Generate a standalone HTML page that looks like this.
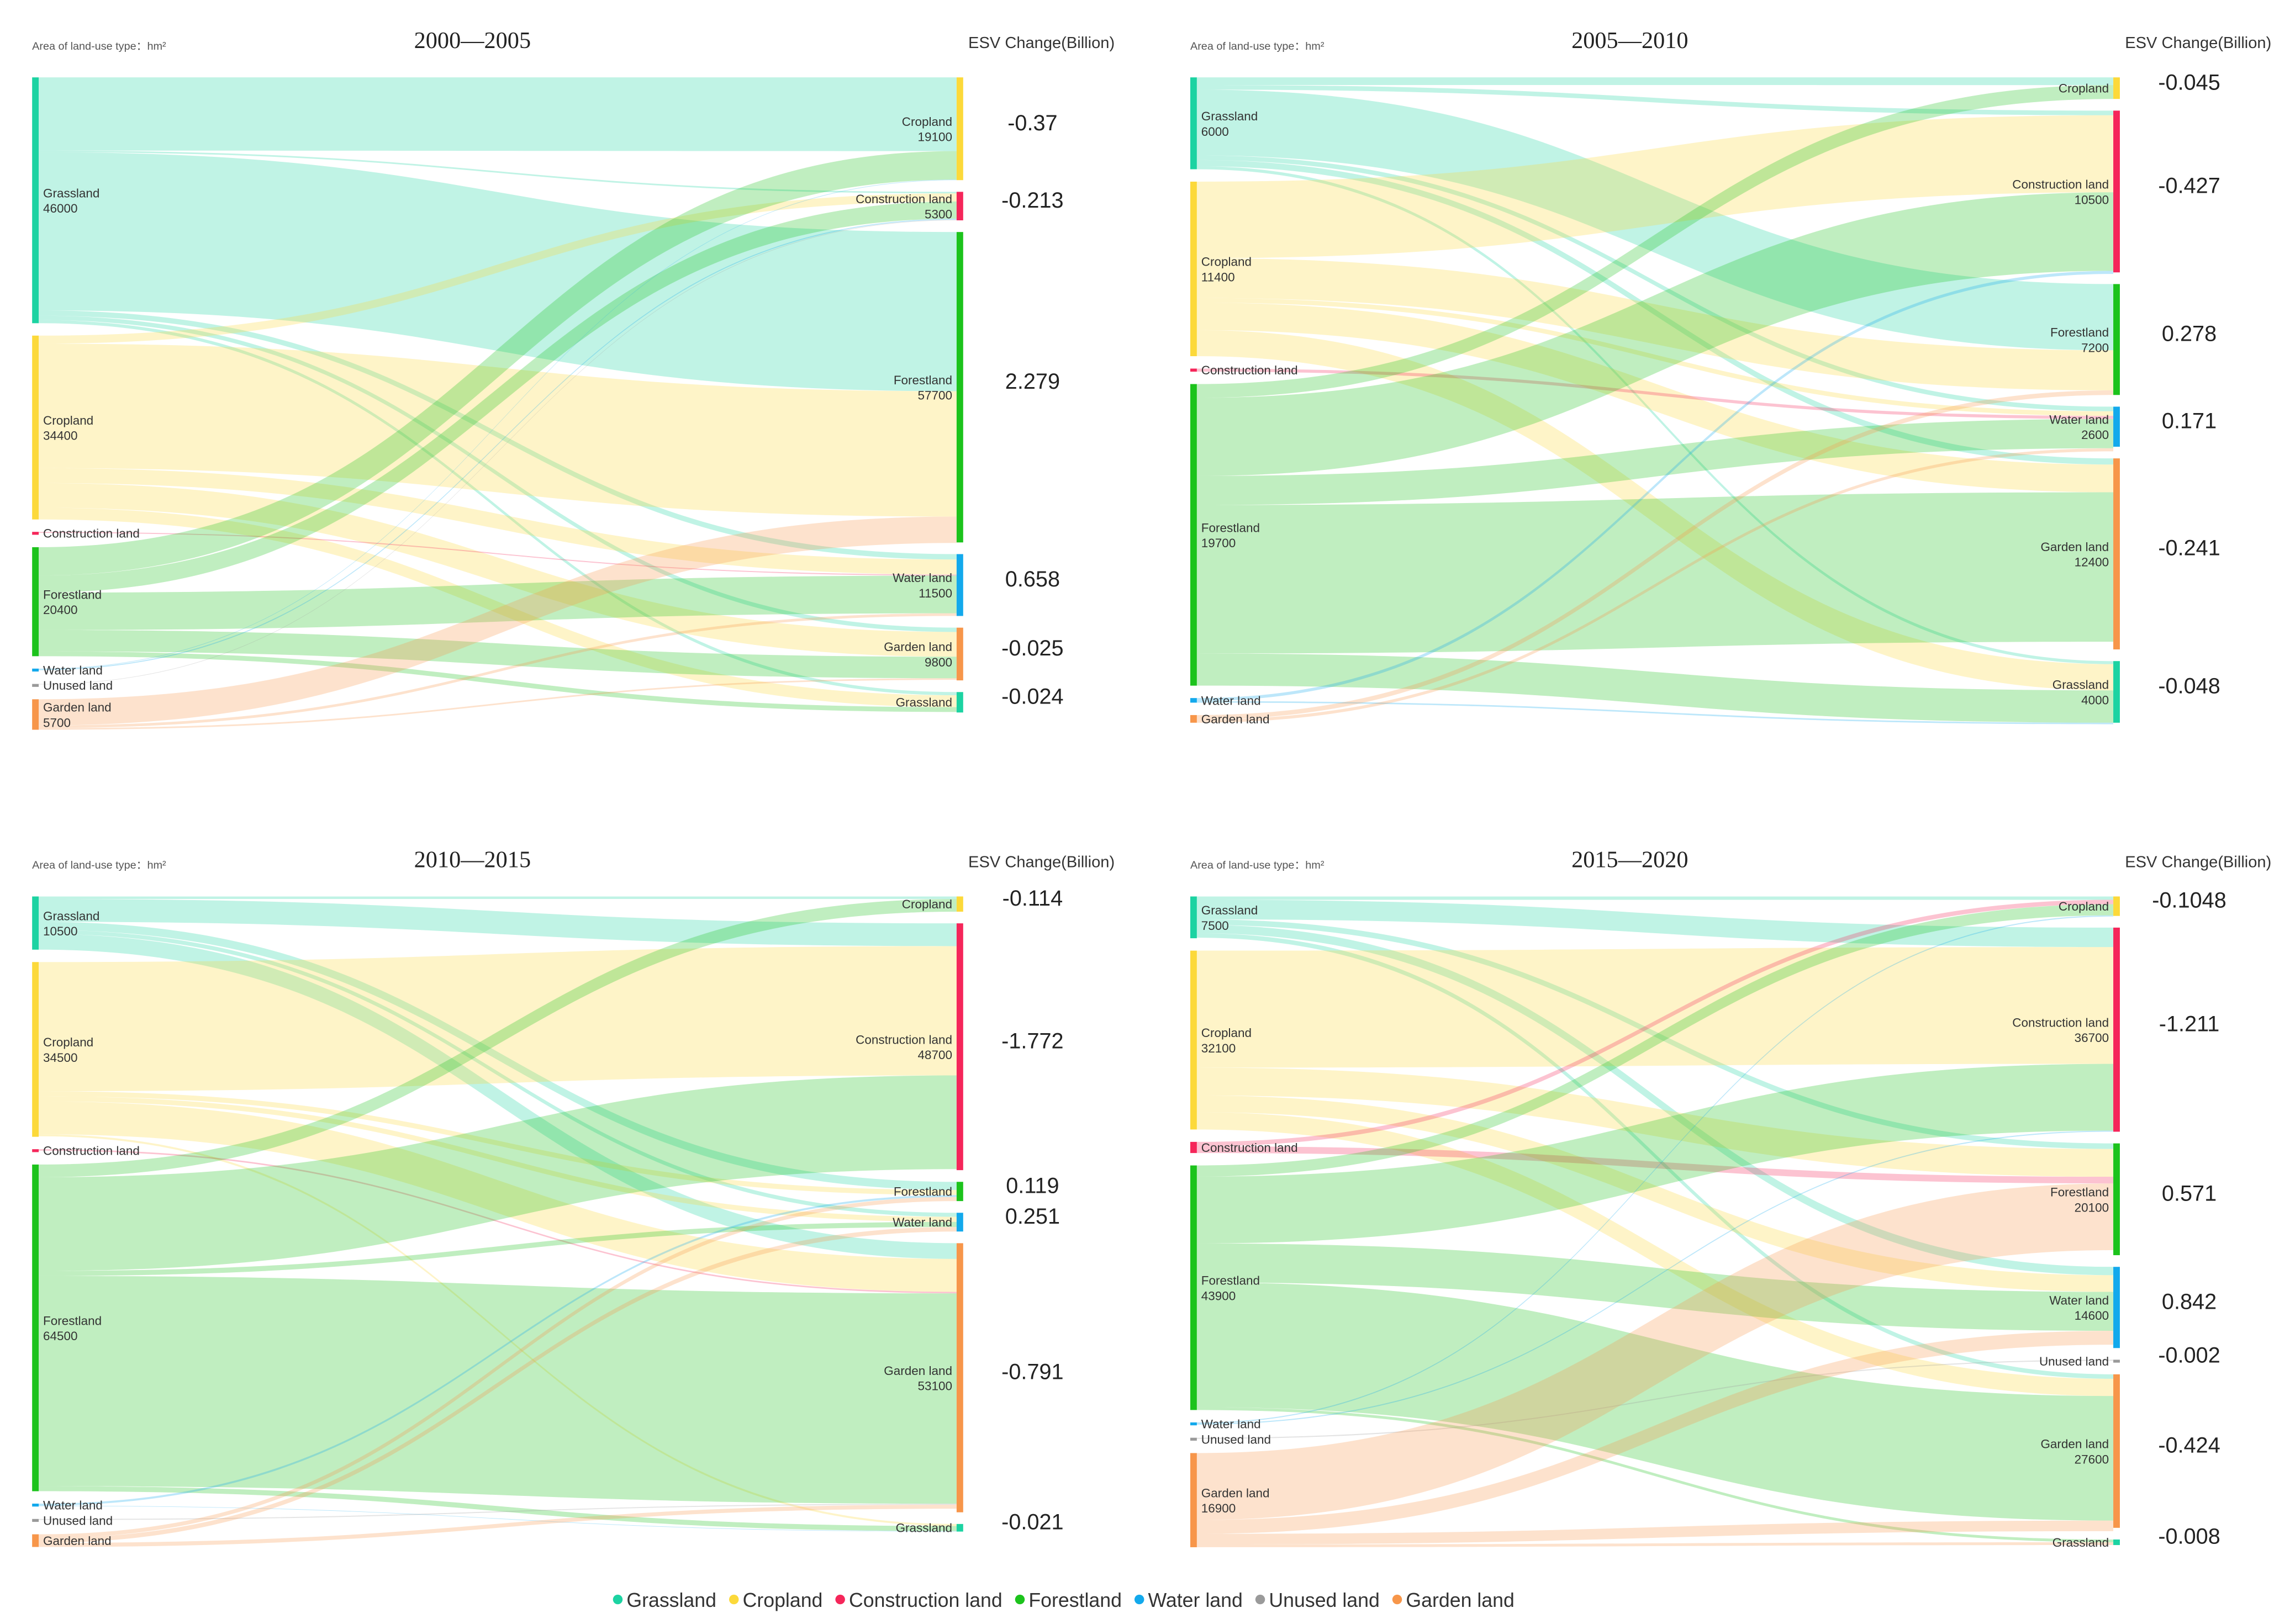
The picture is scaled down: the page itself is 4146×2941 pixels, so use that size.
<!DOCTYPE html>
<html><head><meta charset="utf-8"><style>
html,body{margin:0;padding:0;background:#fff}
svg{display:block}
</style></head><body>
<svg id="chart" width="4146" height="2941" viewBox="0 0 1568 1112.3" preserveAspectRatio="none" xmlns="http://www.w3.org/2000/svg" font-family="Liberation Sans, sans-serif"></svg>
<script>
const nodeColors = {"Grassland":"#1cd3a2","Cropland":"#fcd93a","Construction land":"#f5265a","Forestland":"#1cc31c","Water land":"#13a9ec","Unused land":"#9a9a9a","Garden land":"#f7964a"};
const legendNames = ["Grassland","Cropland","Construction land","Forestland","Water land","Unused land","Garden land"];
const titles = ["2000—2005","2005—2010","2010—2015","2015—2020"];

// Panel 1
const p1LeftNames = ["Grassland","Cropland","Construction land","Forestland","Water land","Unused land","Garden land"];
const p1LeftVals = [46000,34400,200,20400,300,100,5700];
const p1LeftShow = [true,true,false,true,false,false,true];
const p1RightNames = ["Cropland","Construction land","Forestland","Water land","Garden land","Grassland"];
const p1RightVals = [19100,5300,57700,11500,9800,3800];
const p1RightShow = [true,true,true,true,true,false];
const p1Flows = [["Grassland","Cropland",13700],["Grassland","Construction land",300],["Grassland","Forestland",29600],["Grassland","Water land",1000],["Grassland","Garden land",800],["Grassland","Grassland",600],
["Cropland","Construction land",1500],["Cropland","Forestland",23300],["Cropland","Water land",2800],["Cropland","Garden land",4600],["Cropland","Grassland",2200],
["Construction land","Water land",200],
["Forestland","Cropland",5300],["Forestland","Construction land",3200],["Forestland","Water land",7000],["Forestland","Garden land",4000],["Forestland","Grassland",900],
["Water land","Cropland",100],["Water land","Construction land",200],["Unused land","Construction land",100],
["Garden land","Forestland",4900],["Garden land","Water land",500],["Garden land","Garden land",300]];
const p1Esv = ["-0.37","-0.213","2.279","0.658","-0.025","-0.024"];

// Panel 2
const p2LeftNames = ["Grassland","Cropland","Construction land","Forestland","Water land","Garden land"];
const p2LeftVals = [6000,11400,200,19700,300,500];
const p2LeftShow = [true,true,false,true,false,false];
const p2RightNames = ["Cropland","Construction land","Forestland","Water land","Garden land","Grassland"];
const p2RightVals = [1400,10500,7200,2600,12400,4000];
const p2RightShow = [false,true,true,true,true,true];
const p2Flows = [["Grassland","Cropland",500],["Grassland","Construction land",300],["Grassland","Forestland",4300],["Grassland","Water land",300],["Grassland","Garden land",400],["Grassland","Grassland",200],
["Cropland","Construction land",5000],["Cropland","Forestland",2600],["Cropland","Water land",300],["Cropland","Garden land",1800],["Cropland","Grassland",1700],
["Construction land","Water land",200],
["Forestland","Cropland",900],["Forestland","Construction land",5100],["Forestland","Water land",1900],["Forestland","Garden land",9700],["Forestland","Grassland",2100],
["Water land","Construction land",200],["Water land","Grassland",100],
["Garden land","Forestland",300],["Garden land","Water land",200]];
const p2Esv = ["-0.045","-0.427","0.278","0.171","-0.241","-0.048"];

// Panel 3
const p3LeftNames = ["Grassland","Cropland","Construction land","Forestland","Water land","Unused land","Garden land"];
const p3LeftVals = [10500,34500,300,64500,500,200,2500];
const p3LeftShow = [true,true,false,true,false,false,false];
const p3RightNames = ["Cropland","Construction land","Forestland","Water land","Garden land","Grassland"];
const p3RightVals = [3000,48700,3800,3700,53100,1500];
const p3RightShow = [false,true,false,false,true,false];
const p3Flows = [["Grassland","Cropland",500],["Grassland","Construction land",4500],["Grassland","Forestland",1600],["Grassland","Water land",800],["Grassland","Garden land",3100],
["Cropland","Construction land",25500],["Cropland","Forestland",1000],["Cropland","Water land",1000],["Cropland","Garden land",6500],["Cropland","Grassland",400],
["Construction land","Garden land",300],
["Forestland","Cropland",2500],["Forestland","Construction land",18500],["Forestland","Water land",1000],["Forestland","Garden land",41500],["Forestland","Grassland",1000],
["Water land","Forestland",400],["Water land","Grassland",100],["Unused land","Garden land",200],
["Garden land","Forestland",800],["Garden land","Water land",900],["Garden land","Garden land",800]];
const p3Esv = ["-0.114","-1.772","0.119","0.251","-0.791","-0.021"];

// Panel 4
const p4LeftNames = ["Grassland","Cropland","Construction land","Forestland","Water land","Unused land","Garden land"];
const p4LeftVals = [7500,32100,2000,43900,400,200,16900];
const p4LeftShow = [true,true,false,true,false,false,true];
const p4RightNames = ["Cropland","Construction land","Forestland","Water land","Unused land","Garden land","Grassland"];
const p4RightVals = [3500,36700,20100,14600,200,27600,1000];
const p4RightShow = [false,true,true,true,false,true,false];
const p4Flows = [["Grassland","Cropland",600],["Grassland","Construction land",3500],["Grassland","Forestland",1000],["Grassland","Water land",1500],["Grassland","Garden land",800],
["Cropland","Construction land",21000],["Cropland","Forestland",5000],["Cropland","Water land",3000],["Cropland","Garden land",3100],
["Construction land","Cropland",800],["Construction land","Forestland",1200],
["Forestland","Cropland",2000],["Forestland","Construction land",12000],["Forestland","Water land",7000],["Forestland","Garden land",22400],["Forestland","Grassland",500],
["Water land","Cropland",200],["Water land","Construction land",200],["Unused land","Unused land",200],
["Garden land","Forestland",12000],["Garden land","Water land",2500],["Garden land","Garden land",1900],["Garden land","Grassland",500]];
const p4Esv = ["-0.1048","-1.211","0.571","0.842","-0.002","-0.424","-0.008"];

const NS = "http://www.w3.org/2000/svg";
const svg = document.getElementById("chart");
function mk(tag, attrs, parent, txt){
  const e = document.createElementNS(NS, tag);
  for (const k in attrs) e.setAttribute(k, attrs[k]);
  if (txt !== undefined) e.textContent = txt;
  (parent || svg).appendChild(e);
  return e;
}
function layout(names, vals, top, bottom, gap){
  const sum = vals.reduce((a,b)=>a+b,0);
  const k = (bottom - top - gap*(names.length-1)) / sum;
  let y = top; const out = {};
  names.forEach((n,i)=>{ const h = Math.max(vals[i]*k, 2); out[n] = {y0:y, h:h, k:k, off:0, i:i}; y += h + gap; });
  return out;
}
function panel(pi, x0, x1, top, bottomL, bottomR, ln, lv, ls, rn, rv, rs, flows, esv){
  const g = mk("g", {});
  
  
  const w = 4.5;
  const L = layout(ln, lv, top, bottomL, 8.5);
  const R = layout(rn, rv, top, bottomR, 8);
  const sorted = flows.slice().sort((a,b)=> (L[a[0]].i - L[b[0]].i) || (R[a[1]].i - R[b[1]].i));
  const rOrder = flows.slice().sort((a,b)=> (R[a[1]].i - R[b[1]].i) || (L[a[0]].i - L[b[0]].i));
  const tPos = new Map();
  rOrder.forEach(f=>{ const t = R[f[1]]; const h = f[2]*t.k; tPos.set(f, [t.y0+t.off, t.y0+t.off+h]); t.off += h; });
  const links = mk("g", {}, g);
  
  
  sorted.forEach(f=>{
    const s = L[f[0]]; const h = f[2]*s.k;
    const sy0 = s.y0+s.off, sy1 = sy0+h; s.off += h;
    const [ty0, ty1] = tPos.get(f);
    const sx = x0+w, tx = x1, mx = (sx+tx)/2;
    const p = mk("path", {d:`M${sx},${sy0}C${mx},${sy0} ${mx},${ty0} ${tx},${ty0}L${tx},${ty1}C${mx},${ty1} ${mx},${sy1} ${sx},${sy1}Z`, fill:nodeColors[f[0]], "fill-opacity":0.28}, links);
    
    
  });
  ln.forEach((n,i)=>{
    const nd = L[n];
    const r = mk("rect", {x:x0, y:nd.y0, width:w, height:nd.h, fill:nodeColors[n]}, g);
    
    
    const cy = nd.y0 + nd.h/2;
    if (ls[i]) {
      const t = mk("text", {x:x0+w+3, y:cy-2, "font-size":8.5, fill:"#333"}, g, n);
      
      
      const v = mk("text", {x:x0+w+3, y:cy+8.5, "font-size":8.5, fill:"#333"}, g, String(lv[i]));
      
      
    } else {
      const t = mk("text", {x:x0+w+3, y:cy+3, "font-size":8.5, fill:"#333"}, g, n);
      
      
    }
  });
  rn.forEach((n,i)=>{
    const nd = R[n];
    const r = mk("rect", {x:x1, y:nd.y0, width:w, height:nd.h, fill:nodeColors[n]}, g);
    
    
    const cy = nd.y0 + nd.h/2;
    if (rs[i]) {
      const t = mk("text", {x:x1-3, y:cy-2, "font-size":8.5, fill:"#333", "text-anchor":"end"}, g, n);
      
      
      const v = mk("text", {x:x1-3, y:cy+8.5, "font-size":8.5, fill:"#333", "text-anchor":"end"}, g, String(rv[i]));
      
      
    } else {
      const t = mk("text", {x:x1-3, y:cy+3, "font-size":8.5, fill:"#333", "text-anchor":"end"}, g, n);
      
      
    }
    const e = mk("text", {x:x1+52, y:cy+1, "font-size":15, fill:"#222", "text-anchor":"middle"}, g, esv[i]);
    
    
  });
  const tt = mk("text", {x:(x0+x1)/2-15, y:top-20, "font-size":16, fill:"#222", "text-anchor":"middle", style:"font-family:'Liberation Serif',serif"}, g, titles[pi]);
  
  
  const at = mk("text", {x:x0, y:top-19, "font-size":7.5, fill:"#555"}, g, "Area of land-use type：hm²");
  
  
  const et = mk("text", {x:x1+8, y:top-20, "font-size":11, fill:"#333"}, g, "ESV Change(Billion)");
  
  
}
panel(0, 22, 655, 53, 496, 488, p1LeftNames, p1LeftVals, p1LeftShow, p1RightNames, p1RightVals, p1RightShow, p1Flows, p1Esv);
panel(1, 815, 1447, 53, 495, 495, p2LeftNames, p2LeftVals, p2LeftShow, p2RightNames, p2RightVals, p2RightShow, p2Flows, p2Esv);
panel(2, 22, 655, 614, 1057, 1049, p3LeftNames, p3LeftVals, p3LeftShow, p3RightNames, p3RightVals, p3RightShow, p3Flows, p3Esv);
panel(3, 815, 1447, 614, 1058, 1057, p4LeftNames, p4LeftVals, p4LeftShow, p4RightNames, p4RightVals, p4RightShow, p4Flows, p4Esv);

const legend = mk("g", {});


let lx = 423;
legendNames.forEach(n=>{
  const c = mk("circle", {cx:lx, cy:1095.5, r:3.3, fill:nodeColors[n]}, legend);
  
  
  const t = mk("text", {x:lx+6, y:1100.5, "font-size":13.5, fill:"#333"}, legend, n);
  
  
  lx += t.getComputedTextLength() + 18;
});
</script>
</body></html>
